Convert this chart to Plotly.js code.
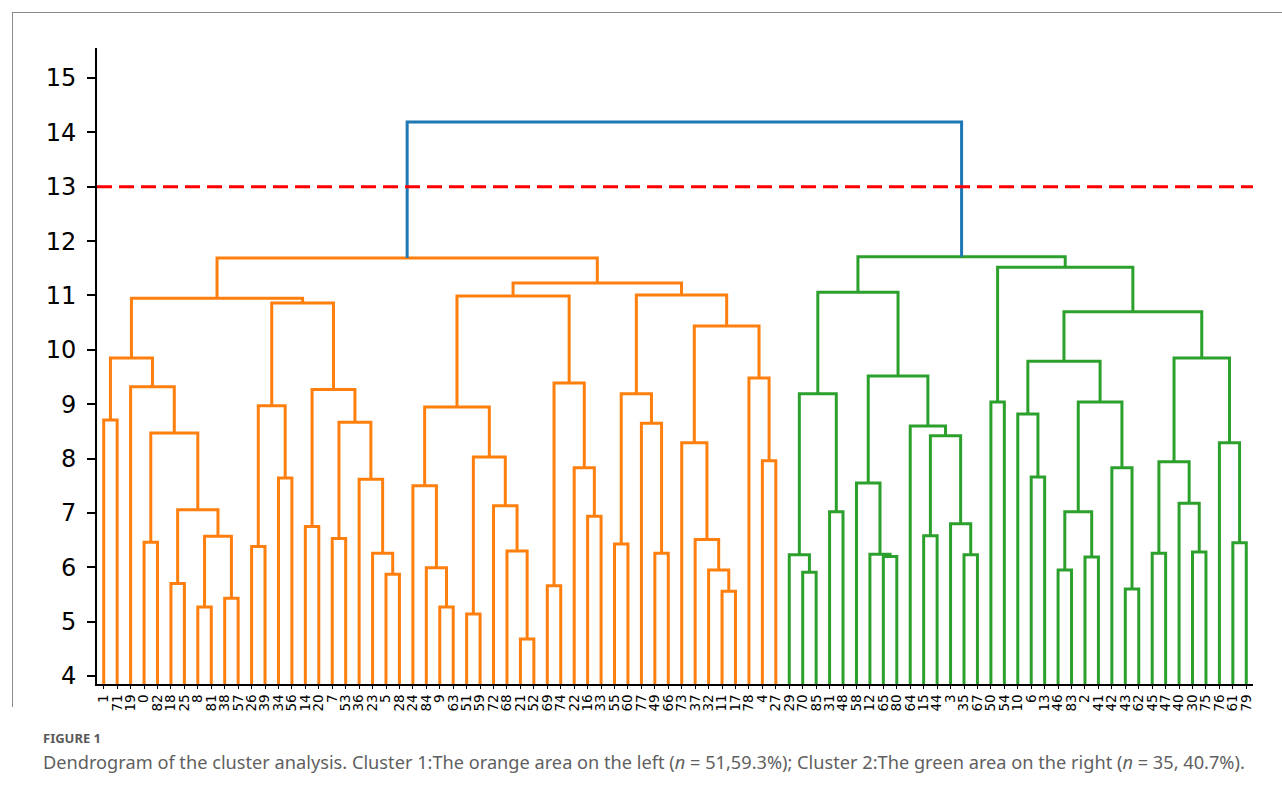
<!DOCTYPE html>
<html>
<head>
<meta charset="utf-8">
<script src="https://cdn.plot.ly/plotly-3.0.1.min.js"></script>
<style>
  html, body { margin: 0; padding: 0; background: #fff; }
  #frame { position: absolute; left: 12px; top: 12px; width: 1290px; height: 694px;
           border-left: 1px solid #8a8a8a; border-top: 1px solid #8a8a8a; pointer-events: none; }
  #chart { width: 1282px; height: 794px; }
</style>
</head>
<body>
<div id="chart"></div>
<div id="frame"></div>
<script>
// Leaf labels, in the order the dendrogram places them left to right
const leafLabels = [
  "1","71","19","0","82","18","25","8","81","38","57","26","39","34","56","14","20","7","53","36",
  "23","5","28","24","84","9","63","51","59","72","68","21","52","69","74","22","16","33","55","60",
  "77","49","66","73","37","32","11","17","78","4","27",
  "29","70","85","31","48","58","12","65","80","64","15","44","3","35","67","50","54","10","6","13",
  "46","83","2","41","42","43","62","45","47","40","30","75","76","61","79"
];

// Linkage rows: [left node, right node, merge height].
// Nodes 0..85 are leaves (by position); node 86 + k is the cluster formed in row k.
const linkage = [
  [0, 1, 8.71], [3, 4, 6.46], [5, 6, 5.70], [7, 8, 5.27], [9, 10, 5.43],
  [89, 90, 6.57], [88, 91, 7.06], [87, 92, 8.47], [2, 93, 9.32], [86, 94, 9.85],
  [11, 12, 6.38], [13, 14, 7.64], [96, 97, 8.97], [15, 16, 6.75], [17, 18, 6.53],
  [21, 22, 5.87], [20, 101, 6.26], [19, 102, 7.62], [100, 103, 8.67], [99, 104, 9.27],
  [98, 105, 10.86], [95, 106, 10.95], [25, 26, 5.27], [24, 108, 5.99], [23, 109, 7.50],
  [27, 28, 5.14], [31, 32, 4.68], [30, 112, 6.30], [29, 113, 7.13], [111, 114, 8.03],
  [110, 115, 8.95], [33, 34, 5.66], [36, 37, 6.94], [35, 118, 7.83], [117, 119, 9.39],
  [116, 120, 10.99], [38, 39, 6.43], [41, 42, 6.26], [40, 123, 8.65], [122, 124, 9.19],
  [46, 47, 5.56], [45, 126, 5.95], [44, 127, 6.51], [43, 128, 8.29], [49, 50, 7.96],
  [48, 130, 9.48], [129, 131, 10.44], [125, 132, 11.01], [121, 133, 11.23], [107, 134, 11.69],
  [52, 53, 5.91], [51, 136, 6.23], [54, 55, 7.02], [137, 138, 9.19], [58, 59, 6.20],
  [57, 140, 6.24], [56, 141, 7.55], [61, 62, 6.58], [64, 65, 6.23], [63, 144, 6.80],
  [143, 145, 8.42], [60, 146, 8.60], [142, 147, 9.52], [139, 148, 11.06], [66, 67, 9.04],
  [69, 70, 7.66], [68, 151, 8.82], [71, 72, 5.95], [73, 74, 6.19], [153, 154, 7.02],
  [76, 77, 5.60], [75, 156, 7.83], [155, 157, 9.04], [152, 158, 9.79], [78, 79, 6.26],
  [81, 82, 6.28], [80, 161, 7.18], [160, 162, 7.94], [84, 85, 6.45], [83, 164, 8.29],
  [163, 165, 9.85], [159, 166, 10.70], [150, 167, 11.52], [149, 168, 11.71], [135, 169, 14.19]
];

const cutHeight = 13;
const yTicks = [4, 5, 6, 7, 8, 9, 10, 11, 12, 13, 14, 15];
const clusterColors = ["#ff7f0e", "#2ca02c"];
const aboveCutColor = "#1f77b4";

// ---- dendrogram geometry (scipy-style: leaf i sits at x = 5 + 10 i, leaves at height 0) ----
const n = leafLabels.length;
const nodeX = [], nodeY = [];
for (let i = 0; i < n; i++) { nodeX.push(5 + 10 * i); nodeY.push(0); }
linkage.forEach(([a, b, h]) => { nodeX.push((nodeX[a] + nodeX[b]) / 2); nodeY.push(h); });

// colour every link: links below the cut share their top-level cluster's colour
const linkColor = new Array(linkage.length);
let paletteIdx = 0;
function paint(node, color) {
  if (node < n) return;
  const k = node - n;
  linkColor[k] = color;
  paint(linkage[k][0], color);
  paint(linkage[k][1], color);
}
function assign(node) {
  if (node < n) return;
  const k = node - n;
  if (linkage[k][2] >= cutHeight) {
    linkColor[k] = aboveCutColor;
    assign(linkage[k][0]);
    assign(linkage[k][1]);
  } else {
    paint(node, clusterColors[paletteIdx++ % clusterColors.length]);
  }
}
assign(n + linkage.length - 1);

// one trace per colour, U-shaped links separated by gaps
const byColor = {};
linkage.forEach(([a, b, h], k) => {
  const c = linkColor[k];
  if (!byColor[c]) byColor[c] = { x: [], y: [] };
  byColor[c].x.push(nodeX[a], nodeX[a], nodeX[b], nodeX[b], null);
  byColor[c].y.push(nodeY[a], h, h, nodeY[b], null);
});

const traces = Object.keys(byColor).map(c => ({
  type: "scatter", mode: "lines", x: byColor[c].x, y: byColor[c].y,
  line: { color: c, width: 3 }, hoverinfo: "skip", showlegend: false
}));

// horizontal cut line
traces.push({
  type: "scatter", mode: "lines", x: [0, 10 * n], y: [cutHeight, cutHeight],
  line: { color: "#ff0000", width: 3, dash: "15px,7px" }, hoverinfo: "skip", showlegend: false
});

const layout = {
  width: 1282, height: 794,
  margin: { l: 97, r: 29, t: 48, b: 110 },
  paper_bgcolor: "#ffffff", plot_bgcolor: "#ffffff",
  font: { family: "DejaVu Sans, sans-serif", color: "#000" },
  xaxis: {
    range: [0, 10 * n], showgrid: false, zeroline: false,
    showline: true, linecolor: "#000", linewidth: 2,
    tickmode: "array", tickvals: leafLabels.map((_, i) => 5 + 10 * i), ticktext: leafLabels,
    tickangle: -90, ticks: "outside", ticklen: 3, tickwidth: 1, tickcolor: "#000",
    tickfont: { size: 13.5, family: "DejaVu Sans, sans-serif", color: "#000" }
  },
  yaxis: {
    range: [3.853, 15.552], showgrid: false, zeroline: false,
    showline: true, linecolor: "#000", linewidth: 2,
    tickmode: "array", tickvals: yTicks,
    ticks: "outside", ticklen: 8, tickwidth: 2, tickcolor: "#000",
    ticklabelstandoff: 6,
    tickfont: { size: 24, family: "DejaVu Sans, sans-serif", color: "#000" }
  },
  annotations: [
    {
      xref: "paper", yref: "paper", x: -0.0484, y: -0.085, xanchor: "left", yanchor: "middle",
      text: "<b>FIGURE 1</b>", showarrow: false,
      font: { family: "Noto Sans, sans-serif", size: 13, color: "#5a5a5a" }
    },
    {
      xref: "paper", yref: "paper", x: -0.0484, y: -0.123, xanchor: "left", yanchor: "middle",
      text: "Dendrogram of the cluster analysis. Cluster 1:The orange area on the left (<i>n</i> = 51,59.3%); Cluster 2:The green area on the right (<i>n</i> = 35, 40.7%).",
      showarrow: false,
      font: { family: "Noto Sans, sans-serif", size: 18.2, color: "#5f5f5f" }
    }
  ]
};

Plotly.newPlot("chart", traces, layout, { displayModeBar: false, staticPlot: true });
</script>
</body>
</html>
